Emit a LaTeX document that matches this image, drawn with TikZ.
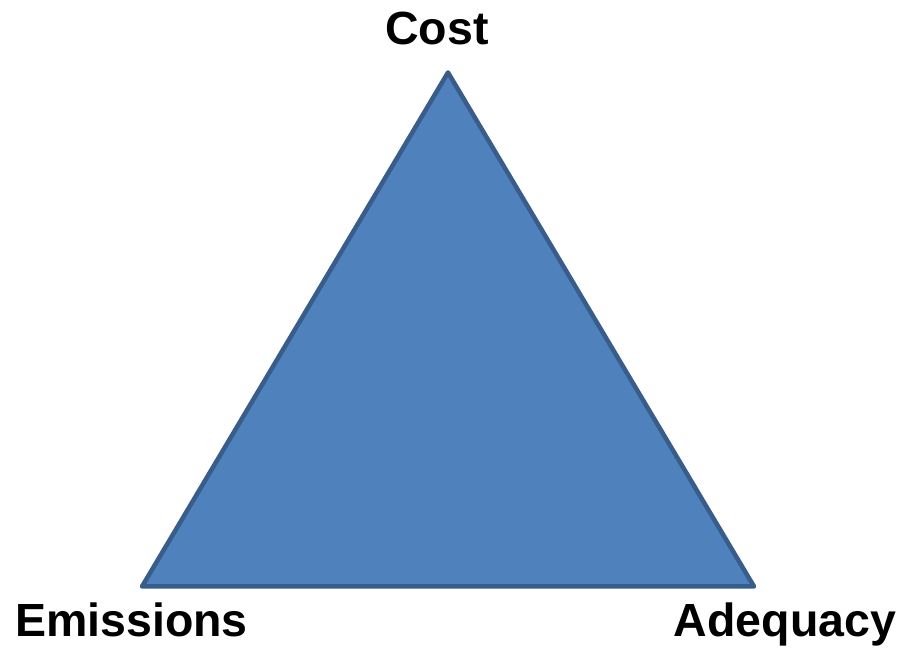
\documentclass[tikz,border=0pt]{standalone}
\usepackage{fontspec}
\setmainfont{Liberation Sans}
\definecolor{triblue}{HTML}{4F81BD}
\definecolor{triedge}{HTML}{385D8A}
\tikzset{
  corner label/.style={font=\fontsize{46.5}{50}\selectfont\bfseries, anchor=base, inner sep=0pt},
}
\begin{document}
\begin{tikzpicture}[x=1pt,y=1pt]
  % page frame
  \useasboundingbox (0,0) rectangle (902,652);
  % corners of the triangle
  \coordinate (top) at (448,579.5);
  \coordinate (left) at (142,65.5);
  \coordinate (right) at (754,65.5);
  % the triangle
  \filldraw[fill=triblue, draw=triedge, line width=4.5pt, line join=round] (top) -- (right) -- (left) -- cycle;
  % labels
  \node[corner label] (cost) at (437,607) {Cost};
  \node[corner label] (emissions) at (131.5,15) {Emissions};
  \node[corner label] (adequacy) at (785,15) {Adequacy};
\end{tikzpicture}
\end{document}
